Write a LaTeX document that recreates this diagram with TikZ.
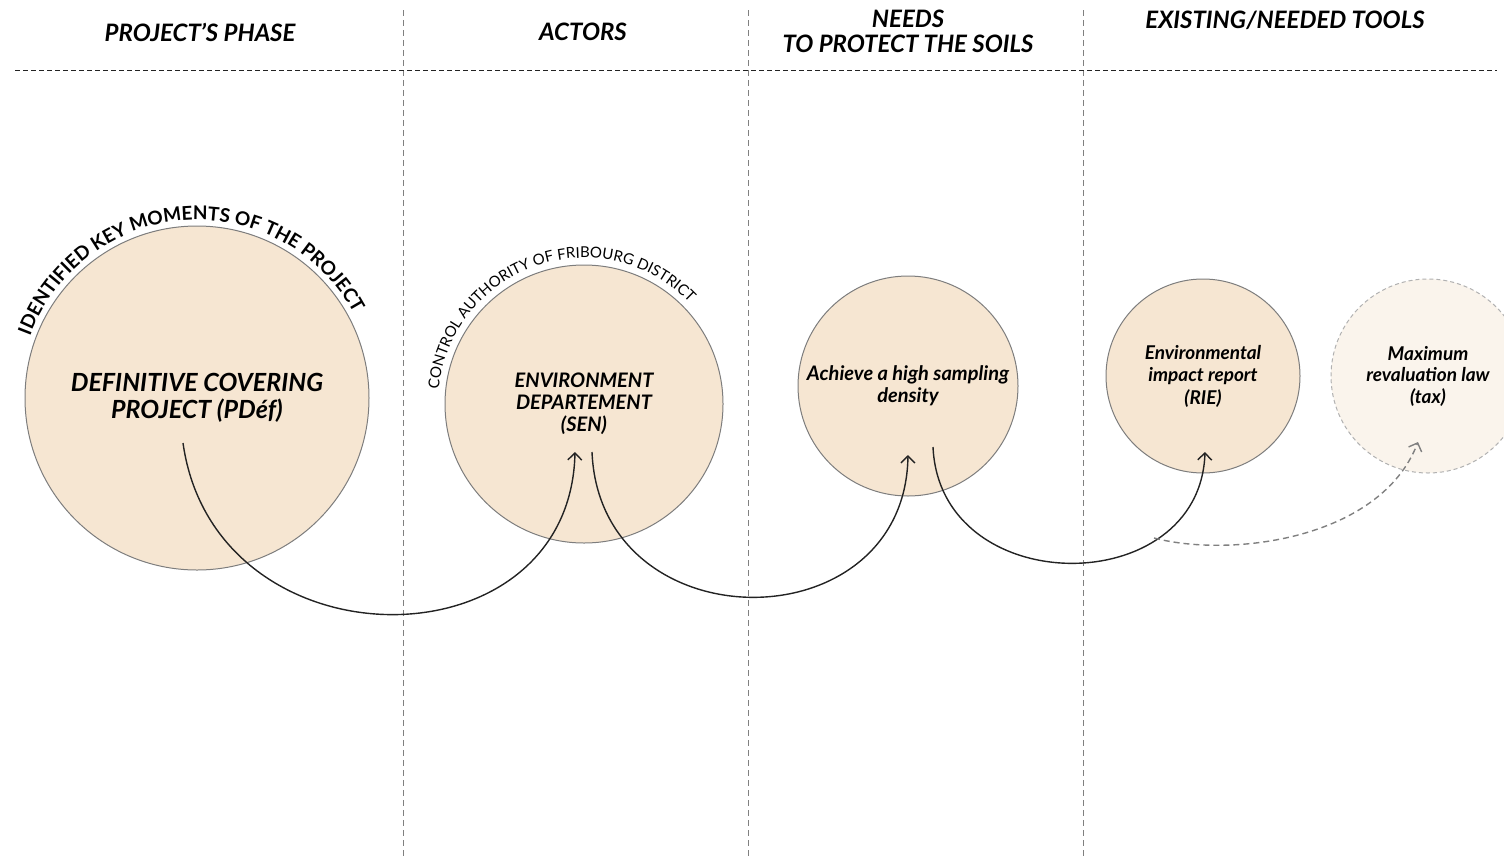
\documentclass[tikz,border=0pt]{standalone}
\usepackage{fontspec}
\setmainfont{Lato}
\usepackage{tikz}
\usetikzlibrary{arrows.meta, decorations.text}

\definecolor{sand}{RGB}{246,230,210}
\definecolor{paleSand}{RGB}{250,244,236}
\definecolor{rimGray}{RGB}{125,125,125}
\definecolor{inkDark}{RGB}{35,35,35}

\tikzset{
  phase/.style={circle, draw=rimGray, line width=0.5pt, fill=sand, inner sep=0pt, align=center, font=\bfseries\itshape},
  flow/.style={draw=inkDark, line width=0.7pt, -{Straight Barb[length=3.5pt,width=7pt]}},
  colsep/.style={draw=gray, line width=0.4pt, dash pattern={on 3pt off 2pt}},
  heading/.style={font=\fontsize{12}{12.5}\selectfont\bfseries\itshape, align=center}
}

\begin{document}
\begin{tikzpicture}[x=0.5pt,y=0.5pt,yscale=-1,xscale=1]
\useasboundingbox (0,0) rectangle (1504,857);

%Straight Lines: column separators
\draw [colsep]  (403,10) -- (403,857) ;
\draw [colsep]  (748,10) -- (748,857) ;
\draw [colsep]  (1083,10) -- (1083,857) ;
%Straight Lines: header rule
\draw [draw=inkDark, line width=0.5pt, dash pattern={on 2.5pt off 1.5pt}]  (15,70) -- (1497,70) ;

% Text Node
\node [heading] (hPhase) at (200,32) {PROJECT'S PHASE};
% Text Node
\node [heading] (hActors) at (583,32) {ACTORS};
% Text Node
\node [heading] (hNeeds) at (908,31) {NEEDS\\TO PROTECT THE SOILS};
% Text Node
\node [heading] (hTools) at (1285,20) {EXISTING/NEEDED TOOLS};

%Shape: Circles
\node [phase, minimum size=172pt, font=\fontsize{12.5}{13.5}\selectfont\bfseries\itshape] (pdef) at (197,398) {DEFINITIVE COVERING\\PROJECT (PDéf)};
\node [phase, minimum size=139pt, font=\fontsize{10}{11}\selectfont\bfseries\itshape] (sen) at (584,404) {ENVIRONMENT\\DEPARTEMENT\\(SEN)};
\node [phase, minimum size=110pt, font=\fontsize{10}{11}\selectfont\bfseries\itshape] (density) at (908,386) {Achieve a high sampling\\density};
\node [phase, minimum size=97pt, font=\fontsize{9.5}{11.25}\selectfont\bfseries\itshape] (rie) at (1203,376) {Environmental\\impact report\\(RIE)};
\node [phase, minimum size=97pt, draw=rimGray!60, dash pattern={on 2pt off 1.5pt}, fill=paleSand, font=\fontsize{9.5}{10.75}\selectfont\bfseries\itshape] (tax) at (1428,376) {Maximum\\revaluation law\\(tax)};

%Curved Text
\path [decorate, decoration={text along path, text align=center, text={|\fontsize{9.5}{9.5}\selectfont\bfseries|IDENTIFIED KEY MOMENTS OF THE PROJECT}}] (pdef.center) ++(176:178) arc [start angle=176, end angle=356, radius=178] ;
\path [decorate, decoration={text along path, text align=center, text={|\fontsize{7.5}{7.5}\selectfont|CONTROL AUTHORITY OF FRIBOURG DISTRICT}}] (sen.center) ++(161:146) arc [start angle=161, end angle=341, radius=146] ;

%Connectors
\coordinate (out1) at (183,443);
\coordinate (in2) at (575,452);
\coordinate (out2) at (592,452);
\coordinate (in3) at (908,455);
\coordinate (out3) at (933,447);
\coordinate (in4) at (1205,452);
\coordinate (branch) at (1154,538);
\coordinate (in5) at (1418,442);

\draw [flow] (out1) .. controls (215,670) and (570,670) .. (in2) ;
\draw [flow] (out2) .. controls (600,645) and (905,645) .. (in3) ;
\draw [flow] (out3) .. controls (940,601) and (1200,601) .. (in4) ;
\draw [flow, draw=gray, dash pattern={on 3pt off 2pt}] (branch) .. controls (1230,558) and (1380,540) .. (in5) ;

\end{tikzpicture}
\end{document}
